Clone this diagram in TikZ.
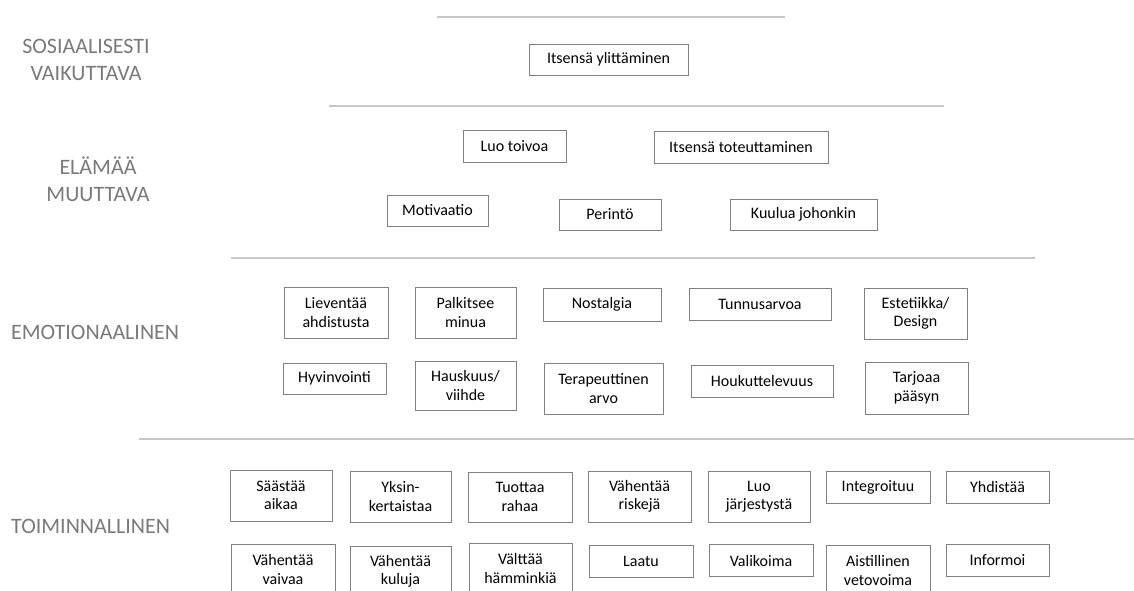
\documentclass[tikz,border=0pt]{standalone}
\usepackage{fontspec}
\setmainfont{Carlito}
\begin{document}
\begin{tikzpicture}[x=1pt,y=-1pt,
  level/.style={text=black!52, font=\fontsize{22}{27}\selectfont, inner sep=0pt, align=center},
  sep/.style={draw=black!22, line width=1.6pt},
  vbox/.style={draw=black!50, line width=0.9pt, rectangle, inner sep=0pt, align=center,
    text=black, font=\fontsize{16}{18.5}\selectfont, minimum width=103, minimum height=32},
  tall/.style={minimum height=51}]
\clip (0,0) rectangle (1134,591);
\fill[white] (0,0) rectangle (1134,591);

% level names
\node[level] (l1) at (86,59.5) {SOSIAALISESTI\\VAIKUTTAVA};
\node[level] (l2) at (98,179.5) {ELÄMÄÄ\\MUUTTAVA};
\node[level, anchor=west] (l3) at (11,332) {EMOTIONAALINEN};
\node[level, anchor=west] (l4) at (11,526) {TOIMINNALLINEN};

% separators between the levels
\coordinate (s1a) at (437,17);  \coordinate (s1b) at (785,17);
\coordinate (s2a) at (329,106); \coordinate (s2b) at (944,106);
\coordinate (s3a) at (231,258); \coordinate (s3b) at (1035,258);
\coordinate (s4a) at (139,439); \coordinate (s4b) at (1134,439);
\draw[sep] (s1a) -- (s1b);
\draw[sep] (s2a) -- (s2b);
\draw[sep] (s3a) -- (s3b);
\draw[sep] (s4a) -- (s4b);

% socially impactful
\node[vbox, minimum width=159, minimum height=31] (ylitt) at (608.5,59.5) {Itsensä ylittäminen};

% life changing
\node[vbox] (toivoa) at (514.5,146) {Luo toivoa};
\node[vbox, minimum width=174] (toteutt) at (741,147) {Itsensä toteuttaminen};
\node[vbox, minimum width=101, minimum height=31] (motiv) at (437.5,210.5) {Motivaatio};
\node[vbox, minimum width=102, minimum height=31] (perinto) at (610,214.5) {Perintö};
\node[vbox, minimum width=147, minimum height=31] (kuulua) at (803.5,214.5) {Kuulua johonkin};

% emotional
\node[vbox, tall, minimum width=104] (lievent) at (336,312.5) {Lieventää\\ahdistusta};
\node[vbox, tall, minimum width=101] (palkit) at (465.5,312.5) {Palkitsee\\minua};
\node[vbox, minimum width=118, minimum height=33] (nostal) at (602,304.5) {Nostalgia};
\node[vbox, minimum width=142] (tunnus) at (760,304) {Tunnusarvoa};
\node[vbox, tall] (estet) at (915.5,313.5) {Estetiikka/\\Design};
\node[vbox, minimum height=31] (hyvinv) at (334.5,378.5) {Hyvinvointi};
\node[vbox, minimum width=101, minimum height=49] (hausk) at (465.5,385.5) {Hauskuus/\\viihde};
\node[vbox, tall, minimum width=119] (terap) at (603.5,388.5) {Terapeuttinen\\arvo};
\node[vbox, minimum width=142] (houkut) at (762,381) {Houkuttelevuus};
\node[vbox, minimum height=52] (tarjoaa) at (916.5,388) {Tarjoaa\\pääsyn};

% functional
\node[vbox, tall, minimum width=102] (saast) at (281,495.5) {Säästää\\aikaa};
\node[vbox, tall, minimum width=101] (yksin) at (400.5,496.5) {Yksin-\\kertaistaa};
\node[vbox, minimum width=104, minimum height=50] (tuottaa) at (520,497) {Tuottaa\\rahaa};
\node[vbox, tall] (riskeja) at (639.5,496.5) {Vähentää\\riskejä};
\node[vbox, tall, minimum width=102] (jarj) at (759,496.5) {Luo\\järjestystä};
\node[vbox, minimum width=104] (integr) at (878,487) {Integroituu};
\node[vbox] (yhdist) at (997.5,487) {Yhdistää};
\node[vbox, tall, minimum width=104] (vaivaa) at (283,569.5) {Vähentää\\vaivaa};
\node[vbox, tall, minimum width=101] (kuluja) at (400.5,571.5) {Vähentää\\kuluja};
\node[vbox, tall] (valttaa) at (520.5,568.5) {Välttää\\hämminkiä};
\node[vbox, minimum width=104] (laatu) at (641,561) {Laatu};
\node[vbox, minimum width=104] (valik) at (761,560.5) {Valikoima};
\node[vbox, tall, minimum width=104] (aistil) at (878,570.5) {Aistillinen\\vetovoima};
\node[vbox] (inform) at (997.5,560) {Informoi};
\end{tikzpicture}
\end{document}
